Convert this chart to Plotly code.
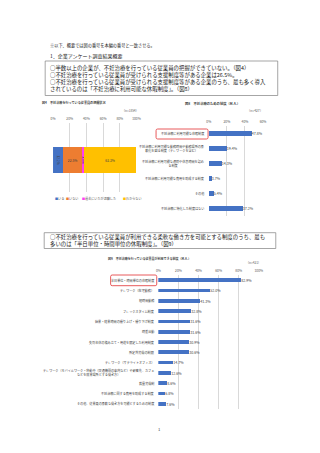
import plotly.graph_objects as go

W, H = 320, 453
FONT = "Noto Sans CJK JP"

# ---------------- data ----------------
header_note = "※以下、概要では図の番号を本編の番号と一致させる。"
section_title = "1．企業アンケート調査結果概要"
box1_lines = [
    "○半数以上の企業が、不妊治療を行っている従業員の把握ができていない。（図4）",
    "○不妊治療を行っている従業員が受けられる支援制度等がある企業は26.5%。",
    "○不妊治療を行っている従業員が受けられる支援制度等がある企業のうち、最も多く導入",
    "されているのは「不妊治療に利用可能な休暇制度」。（図8）",
]
box2_lines = [
    "○不妊治療を行っている従業員が利用できる柔軟な働き方を可能とする制度のうち、最も",
    "多いのは「半日単位・時間単位の休暇制度」。（図9）",
]

fig4_title = "図4　不妊治療を行っている従業員の把握状況"
fig4_n = "（n=1854）"
fig4_series = ["いる", "いない", "過去にいたが退職した", "わからない"]
fig4_values = [12.2, 22.5, 3.0, 62.3]
fig4_colors = ["#4472C4", "#ED7D31", "#FF3DF5", "#FFC000"]

fig8_title = "図8　不妊治療のための制度（M.A.）"
fig8_n = "（n=427）"
fig8_labels = [
    "不妊治療に利用可能な休暇制度",
    "不妊治療に利用可能な勤務時間や勤務場所の柔<br>軟化を図る制度（テレワークを含む）",
    "不妊治療に利用可能な通院や休息時間を認め<br>る制度",
    "不妊治療に利用可能な費用を助成する制度",
    "その他",
    "不妊治療に特化した制度はない",
]
fig8_values = [47.8, 19.4, 14.3, 3.7, 5.4, 37.2]

fig9_title = "図9　不妊治療を行っている従業員が利用できる制度（M.A.）"
fig9_n = "（n=421）"
fig9_labels = [
    "半日単位・時間単位の休暇制度",
    "テレワーク（在宅勤務）",
    "短時間勤務",
    "フレックスタイム制度",
    "始業・終業時間の繰り上げ・繰り下げ制度",
    "時差出勤",
    "失効年休の積み立て・用途を限定した利用制度",
    "所定外労働の制限",
    "テレワーク（サテライトオフィス）",
    "テレワーク（モバイルワーク・移動中（交通機関の車内など）や顧客先、カフェ<br>などを就業場所とする働き方）",
    "裁量労働制",
    "不妊治療に関する費用を助成する制度",
    "その他、従業員の柔軟な働き方を可能とするための制度",
]
fig9_values = [82.9, 52.0, 41.3, 32.8, 31.6, 31.6, 30.9, 30.6, 14.7, 12.6, 8.6, 6.8, 7.6]

tick4 = [0, 20, 40, 60, 80, 100]
tick8 = [0, 20, 40, 60]
tick9 = [0, 20, 40, 60, 80, 100]
page_no = "1"

# ---------------- helpers ----------------
def X(px):
    return px / W

def Y(py):
    return 1 - py / H

BLUE = "#4472C4"
TXT = "#222222"
GRAY = "#595959"
GRID = "#D9D9D9"

fig = go.Figure()

# Figure 4 : stacked bar
for name, v, c in zip(fig4_series, fig4_values, fig4_colors):
    fig.add_trace(go.Bar(
        x=[v], y=[0], orientation="h", name=name, marker=dict(color=c, line=dict(width=0)),
        width=0.87, text=[f"{v:.1f}%"], textposition="inside", insidetextanchor="middle",
        constraintext="none", textfont=dict(size=3.3, color="#404040", family=FONT),
        xaxis="x", yaxis="y", cliponaxis=False, showlegend=False,
    ))

# Figure 8
fig.add_trace(go.Bar(
    x=fig8_values, y=fig8_labels, orientation="h", marker=dict(color=BLUE, line=dict(width=0)),
    width=0.34, text=[f"{v:.1f}%" for v in fig8_values], textposition="outside",
    constraintext="none", textfont=dict(size=3.6, color="#404040", family=FONT),
    xaxis="x2", yaxis="y2", cliponaxis=False, showlegend=False,
))

# Figure 9
fig.add_trace(go.Bar(
    x=fig9_values, y=fig9_labels, orientation="h", marker=dict(color=BLUE, line=dict(width=0)),
    width=0.36, text=[f"{v:.1f}%" for v in fig9_values], textposition="outside",
    constraintext="none", textfont=dict(size=3.6, color="#404040", family=FONT),
    xaxis="x3", yaxis="y3", cliponaxis=False, showlegend=False,
))

axfont = dict(size=3.3, color=GRAY, family=FONT)

def xaxis(domain, rng, ticks, anchor):
    return dict(domain=domain, range=rng, tickvals=ticks, ticktext=[f"{t}%" for t in ticks],
                side="top", showgrid=True, gridcolor=GRID, gridwidth=0.6, zeroline=False,
                showline=False, ticks="", tickfont=axfont, anchor=anchor, fixedrange=True,
                ticklabelstandoff=1)

fig.update_layout(
    width=W, height=H, margin=dict(l=0, r=0, t=0, b=0), autosize=False,
    paper_bgcolor="white", plot_bgcolor="white", barmode="stack", bargap=0,
    font=dict(family=FONT, color=TXT),
    showlegend=False,
    xaxis=xaxis([X(52), X(137)], [0, 100], tick4, "y"),
    yaxis=dict(domain=[Y(192), Y(123)], range=[-1.0667, 1.2333], visible=False, anchor="x"),
    xaxis2=xaxis([X(210.7), X(266)], [0, 60], tick8, "y2"),
    yaxis2=dict(domain=[Y(215.5), Y(125.5)], categoryorder="array", categoryarray=fig8_labels,
                range=[5.5, -0.5], showticklabels=False, showgrid=False, zeroline=False,
                ticks="", anchor="x2"),
    xaxis3=xaxis([X(159.3), X(261.7)], [0, 100], tick9, "y3"),
    yaxis3=dict(domain=[Y(409), Y(275)], categoryorder="array", categoryarray=fig9_labels,
                range=[12.5, -0.5], showticklabels=False, showgrid=False, zeroline=False,
                ticks="", anchor="x3"),
)

ann = []

def text(px, py, s, size, xanchor="left", color=TXT, align="left", **kw):
    ann.append(dict(x=X(px), y=Y(py), xref="paper", yref="paper", text=s, showarrow=False,
                    xanchor=xanchor, yanchor="middle", align=align,
                    font=dict(size=size, color=color, family=FONT), **kw))

text(47, 45.7, header_note, 4.2)
text(47, 55.7, section_title, 5.0)
for i, line in enumerate(box1_lines):
    text(47, 67.6 + 7.0 * i, line, 5.4)
for i, line in enumerate(box2_lines):
    text(47, 237.0 + 7.2 * i, line, 5.4)

# chart titles and n
text(73.5, 102, "<b>" + fig4_title + "</b>", 3.1, xanchor="center", color="#404040")
text(142, 110.7, fig4_n, 3.1, xanchor="right", color=GRAY)
text(215, 103, "<b>" + fig8_title + "</b>", 3.3, xanchor="center", color="#404040")
text(268, 110, fig8_n, 3.3, xanchor="right", color=GRAY)
text(150, 258.3, "<b>" + fig9_title + "</b>", 3.0, xanchor="center", color="#404040")
text(266, 262, fig9_n, 3.1, xanchor="right", color=GRAY)

# legend for figure 4
leg_x = [51.7, 63.3, 79.3, 121.7]
for lx, name, c in zip(leg_x, fig4_series, fig4_colors):
    text(lx, 198.3, f'<span style="color:{c}">■</span>{name}', 3.1, color=GRAY)

# category labels
for lab in fig8_labels:
    ann.append(dict(x=X(208), y=lab, xref="paper", yref="y2", text=lab, showarrow=False,
                    xanchor="right", yanchor="middle", align="center",
                    font=dict(size=3.1, color="#404040", family=FONT)))
for lab in fig9_labels:
    ann.append(dict(x=X(156.7), y=lab, xref="paper", yref="y3", text=lab, showarrow=False,
                    xanchor="right", yanchor="middle", align="center",
                    font=dict(size=3.1, color="#404040", family=FONT)))

text(160, 428.5, page_no, 4.2, xanchor="center", color="#404040")

fig.update_layout(annotations=ann)

# boxes
def rounded(x0, y0, x1, y1, r):
    x0, x1 = X(x0), X(x1)
    ry = r / H
    rx = r / W
    ya, yb = Y(y1), Y(y0)  # ya bottom, yb top (paper)
    return (f"M {x0+rx},{yb} L {x1-rx},{yb} Q {x1},{yb} {x1},{yb-ry} L {x1},{ya+ry} "
            f"Q {x1},{ya} {x1-rx},{ya} L {x0+rx},{ya} Q {x0},{ya} {x0},{ya+ry} "
            f"L {x0},{yb-ry} Q {x0},{yb} {x0+rx},{yb} Z")

shapes = [
    dict(type="rect", xref="paper", yref="paper", x0=X(44), x1=X(281), y0=Y(95.5), y1=Y(61),
         line=dict(color="#7F7F7F", width=0.7)),
    dict(type="rect", xref="paper", yref="paper", x0=X(43), x1=X(279), y0=Y(248.5), y1=Y(232.7),
         line=dict(color="#7F7F7F", width=0.7)),
    dict(type="path", xref="paper", yref="paper", path=rounded(157, 129, 210, 139, 1.6),
         line=dict(color="#E5484A", width=0.9)),
    dict(type="path", xref="paper", yref="paper", path=rounded(110.7, 275, 157.7, 285.7, 1.6),
         line=dict(color="#E5484A", width=0.9)),
]
fig.update_layout(shapes=shapes)

fig.write_html("out.html")
